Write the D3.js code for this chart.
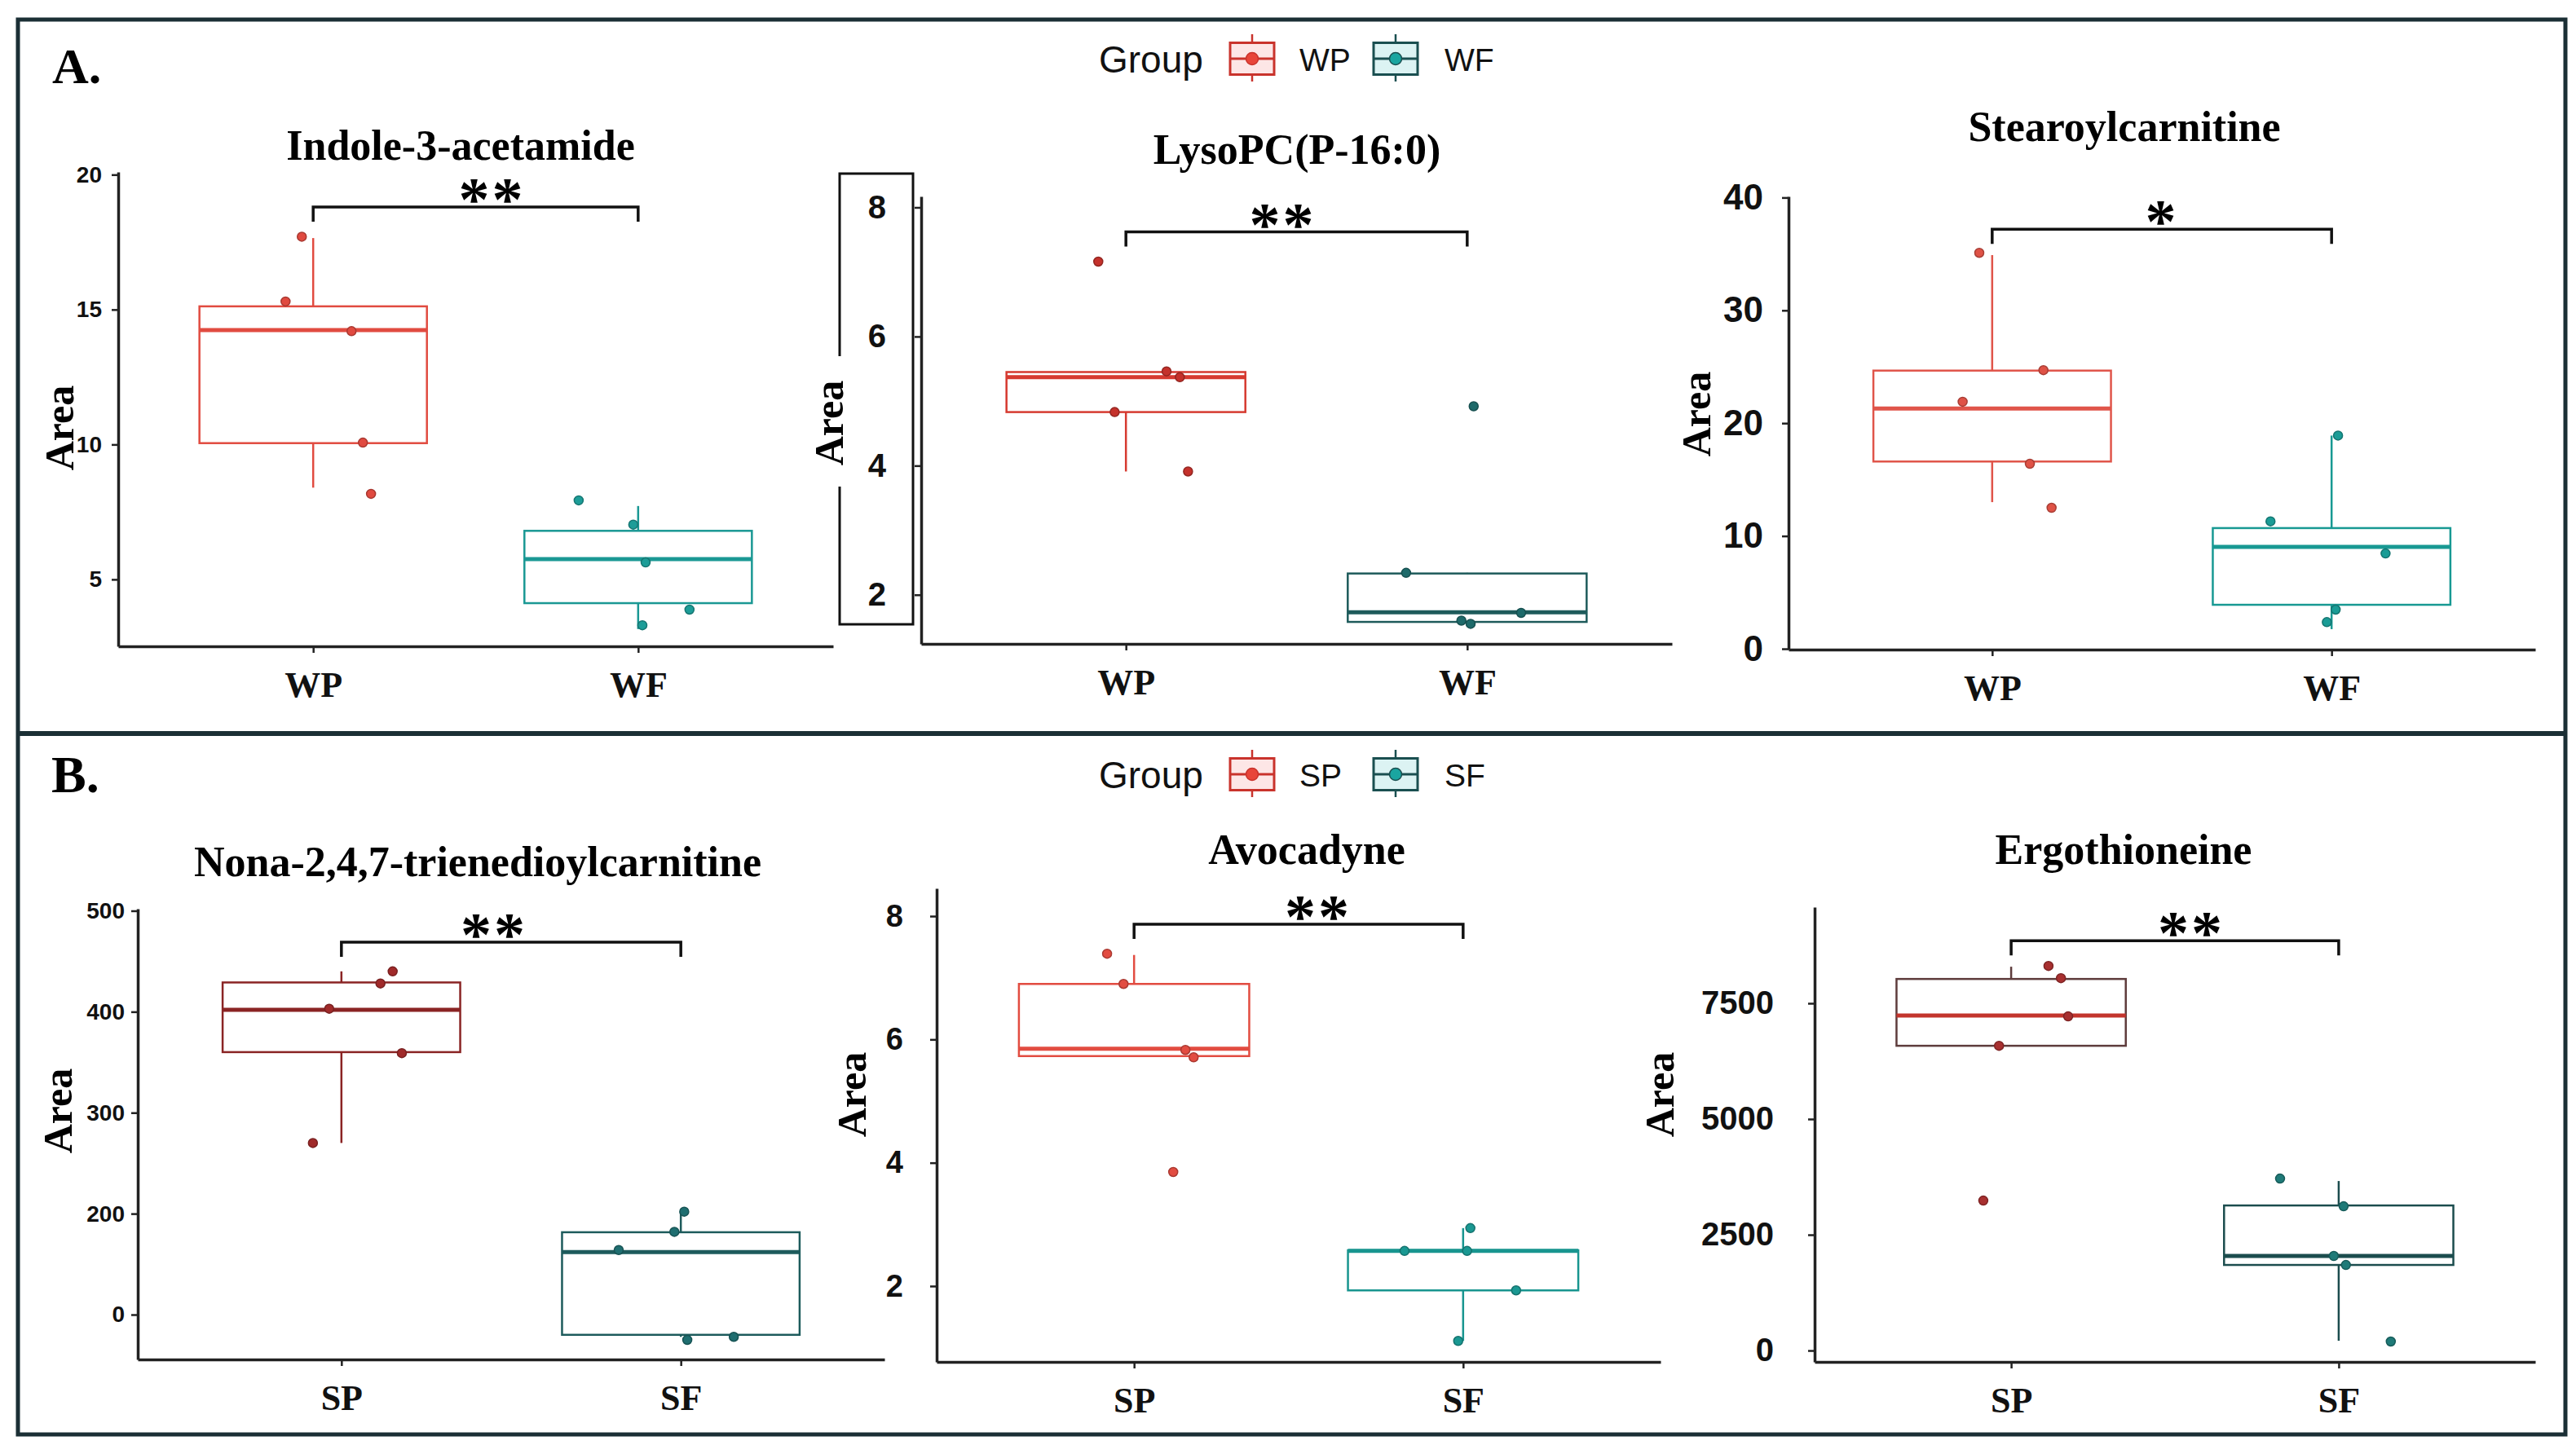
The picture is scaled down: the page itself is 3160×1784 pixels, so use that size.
<!DOCTYPE html>
<html>
<head>
<meta charset="utf-8">
<script src="https://cdn.jsdelivr.net/npm/d3@7"></script>
<style>
  html, body { margin: 0; padding: 0; background: #fff; }
  svg { display: block; }
</style>
</head>
<body>
<div id="chart"></div>
<script>
// ---- data ----
const groupsA = ["WP", "WF"];
const groupsB = ["SP", "SF"];
const titles = ["Indole-3-acetamide", "LysoPC(P-16:0)", "Stearoylcarnitine",
                "Nona-2,4,7-trienedioylcarnitine", "Avocadyne", "Ergothioneine"];
const stars = ["**", "**", "*", "**", "**", "**"];
const sigY = [18.8, 7.62, 37.2, 469, 7.87, 8853];

const yDomains = [[2.52, 20.1], [1.24, 8.17], [-0.07, 40.1], [55.6, 502], [0.77, 8.45], [-246, 9577]];
const yTicks = [[5, 10, 15, 20], [2, 4, 6, 8], [0, 10, 20, 30, 40],
                [100, 200, 300, 400, 500], [2, 4, 6, 8], [0, 2500, 5000, 7500]];
// panel B1 prints "0" where 100 would be
const yTickLabels = [["5", "10", "15", "20"], ["2", "4", "6", "8"], ["0", "10", "20", "30", "40"],
                     ["0", "200", "300", "400", "500"], ["2", "4", "6", "8"], ["0", "2500", "5000", "7500"]];

// box stats: [low whisker, q1, median, q3, high whisker], one per group
const indoleBox = [[8.4, 10.05, 14.24, 15.12, 17.65], [3.16, 4.12, 5.75, 6.8, 7.72]];
const indolePts = [[17.7, 15.3, 14.2, 10.07, 8.17], [7.93, 7.03, 5.63, 3.88, 3.3]];
const indoleJit = [[-0.035, -0.085, 0.118, 0.153, 0.178], [-0.183, -0.015, 0.023, 0.158, 0.013]];

const lysoBox = [[3.91, 4.83, 5.37, 5.45, 5.45], [1.55, 1.58, 1.73, 2.33, 2.34]];
const lysoPts = [[7.16, 5.46, 5.37, 4.83, 3.91], [4.92, 2.34, 1.72, 1.6, 1.55]];
const lysoJit = [[-0.081, 0.119, 0.158, -0.033, 0.182], [0.019, -0.179, 0.158, -0.017, 0.01]];

const stearBox = [[13.0, 16.6, 21.3, 24.66, 34.9], [1.74, 3.9, 9.04, 10.7, 18.9]];
const stearPts = [[35.1, 24.7, 21.9, 16.4, 12.5], [18.9, 11.3, 8.45, 3.47, 2.36]];
const stearJit = [[-0.038, 0.151, -0.087, 0.111, 0.175], [0.019, -0.18, 0.159, 0.012, -0.014]];

const nonaBox = [[270, 360, 402, 429, 440], [78, 80, 162, 181.6, 202]];
const nonaPts = [[440, 428, 403, 359, 270], [202, 182, 164, 75, 78]];
const nonaJit = [[0.151, 0.115, -0.036, 0.178, -0.084], [0.01, -0.019, -0.183, 0.019, 0.156]];

const avoBox = [[5.73, 5.73, 5.85, 6.9, 7.37], [1.11, 1.93, 2.57, 2.58, 2.94]];
const avoPts = [[7.39, 6.9, 5.83, 5.71, 3.85], [2.94, 2.57, 2.57, 1.93, 1.11]];
const avoJit = [[-0.082, -0.032, 0.156, 0.181, 0.119], [0.022, -0.178, 0.012, 0.161, -0.015]];

const ergoBox = [[6582, 6582, 7234, 8025, 8290], [211, 1848, 2042, 3133, 3661]];
const ergoPts = [[8307, 8043, 7216, 6582, 3238], [3714, 3115, 2042, 1848, 194]];
const ergoJit = [[0.114, 0.152, 0.174, -0.037, -0.085], [-0.179, 0.015, -0.015, 0.022, 0.159]];

// ---- colours per panel [group1, group2] ----
const boxColors = [["#e14b40", "#1a9894"], ["#d63a30", "#1e5b5b"], ["#e0554a", "#189993"],
                   ["#8a2424", "#1d5b5c"], ["#e24c41", "#18958f"], ["#5e3c3c", "#1c4d4e"]];
const medColors = [["#e14b40", "#1a9894"], ["#d63a30", "#1e5b5b"], ["#e0554a", "#189993"],
                   ["#8a2424", "#1d5b5c"], ["#e24c41", "#18958f"], ["#c3352d", "#1c4d4e"]];
const ptColors = [["#e04a40", "#1d9d98"], ["#c4312b", "#1e6a6a"], ["#df5246", "#1a9c96"],
                  ["#a02a2a", "#1f6e70"], ["#e24c41", "#1a9892"], ["#a83030", "#1f7a78"]];

// ---- layout (pixels) ----
const layout = [
  { x0: 145,  x1: 1022, yb: 793,  yt: 211,  tx: 565,  ty: 196,  ax: 73,   ay: 525,  fs: 28, pad: 12, sdx: 20 },
  { x0: 1130, x1: 2051, yb: 790,  yt: 241,  tx: 1591, ty: 201,  ax: 1017, ay: 519,  fs: 40, pad: 35, sdx: -17 },
  { x0: 2194, x1: 3110, yb: 797,  yt: 241,  tx: 2606, ty: 173,  ax: 2081, ay: 508,  fs: 44, pad: 23, sdx: 0 },
  { x0: 169,  x1: 1085, yb: 1668, yt: 1115, tx: 586,  ty: 1075, ax: 71,   ay: 1363, fs: 28, pad: 8,  sdx: -21 },
  { x0: 1149, x1: 2037, yb: 1671, yt: 1090, tx: 1603, ty: 1060, ax: 1045, ay: 1343, fs: 38, pad: 33, sdx: 24 },
  { x0: 2226, x1: 3110, yb: 1671, yt: 1113, tx: 2605, ty: 1060, ax: 2036, ay: 1343, fs: 40, pad: 42, sdx: 20 }
];

const W = 3160, H = 1784;
const SERIF = "'Liberation Serif', 'Times New Roman', serif";
const SANS = "'Liberation Sans', Arial, sans-serif";
const AXIS = "#222";

const svg = d3.select("#chart").append("svg").attr("width", W).attr("height", H);
svg.append("rect").attr("width", W).attr("height", H).attr("fill", "#fff");

function drawPanel(i, groups, boxes, pts, jit) {
  const L = layout[i];
  const x = d3.scalePoint().domain(groups).range([L.x0, L.x1]).padding(0.6);
  const y = d3.scaleLinear().domain(yDomains[i]).range([L.yb, L.yt]);
  const step = x.step();
  const bw = step * 0.7;
  const g = svg.append("g");

  // title
  g.append("text").attr("x", L.tx).attr("y", L.ty)
    .attr("text-anchor", "middle").attr("font-family", SERIF)
    .attr("font-weight", "bold").attr("font-size", 52).text(titles[i]);

  // y axis
  const ya = g.append("g").attr("transform", `translate(${L.x0},0)`)
    .call(d3.axisLeft(y).tickValues(yTicks[i])
      .tickFormat((d, k) => yTickLabels[i][k])
      .tickSize(8).tickSizeOuter(0).tickPadding(L.pad));
  ya.select(".domain").attr("stroke", AXIS).attr("stroke-width", 3.5);
  ya.selectAll(".tick line").attr("stroke", AXIS).attr("stroke-width", 2.5);
  ya.selectAll("text").attr("font-family", SANS).attr("font-weight", "bold")
    .attr("font-size", L.fs).attr("fill", "#111");

  // x axis
  const xa = g.append("g").attr("transform", `translate(0,${L.yb})`)
    .call(d3.axisBottom(x).tickSize(8).tickSizeOuter(0));
  xa.select(".domain").attr("stroke", AXIS).attr("stroke-width", 3.5);
  xa.selectAll(".tick line").attr("stroke", AXIS).attr("stroke-width", 2.5);
  xa.selectAll("text").attr("dy", null).attr("y", 62)
    .attr("font-family", SERIF).attr("font-weight", "bold")
    .attr("font-size", 44).attr("fill", "#111");

  // "Area" label
  if (i === 1) {
    g.append("rect").attr("x", 1030).attr("y", 213).attr("width", 90).attr("height", 553)
      .attr("fill", "none").attr("stroke", "#111").attr("stroke-width", 3);
    g.append("rect").attr("x", L.ax - 25).attr("y", L.ay - 82).attr("width", 50).attr("height", 160)
      .attr("fill", "#fff");
  }
  g.append("text")
    .attr("transform", `translate(${L.ax},${L.ay}) rotate(-90)`)
    .attr("text-anchor", "middle").attr("dominant-baseline", "central")
    .attr("font-family", SERIF).attr("font-weight", "bold").attr("font-size", 50)
    .text("Area");

  // boxes
  groups.forEach((grp, k) => {
    const [lo, q1, med, q3, hi] = boxes[k];
    const cx = x(grp);
    const col = boxColors[i][k];
    g.append("line").attr("x1", cx).attr("x2", cx).attr("y1", y(lo)).attr("y2", y(q1))
      .attr("stroke", col).attr("stroke-width", 2.5);
    g.append("line").attr("x1", cx).attr("x2", cx).attr("y1", y(q3)).attr("y2", y(hi))
      .attr("stroke", col).attr("stroke-width", 2.5);
    g.append("rect").attr("x", cx - bw / 2).attr("y", y(q3))
      .attr("width", bw).attr("height", Math.max(0, y(q1) - y(q3)))
      .attr("fill", "none").attr("stroke", col).attr("stroke-width", 2.5);
    g.append("line").attr("x1", cx - bw / 2).attr("x2", cx + bw / 2)
      .attr("y1", y(med)).attr("y2", y(med))
      .attr("stroke", medColors[i][k]).attr("stroke-width", 5);

    g.selectAll(null).data(pts[k]).enter().append("circle")
      .attr("cx", (d, j) => cx + jit[k][j] * step)
      .attr("cy", d => y(d))
      .attr("r", 5.5)
      .attr("fill", ptColors[i][k])
      .attr("stroke", d3.color(ptColors[i][k]).darker(0.8))
      .attr("stroke-width", 1.5);
  });

  // significance bracket
  const sy = y(sigY[i]);
  const xa1 = x(groups[0]), xa2 = x(groups[1]);
  g.append("path")
    .attr("d", `M${xa1},${sy + 18}V${sy}H${xa2}V${sy + 18}`)
    .attr("fill", "none").attr("stroke", "#111").attr("stroke-width", 3.5);
  g.append("text").attr("x", (xa1 + xa2) / 2 + L.sdx).attr("y", sy + 16)
    .attr("text-anchor", "middle").attr("font-family", SERIF).attr("font-weight", "bold")
    .attr("font-size", 76).attr("letter-spacing", 3).text(stars[i]);
}

function drawLegend(groups, colors, fills, dots, cy) {
  const lg = svg.append("g");
  lg.append("text").attr("x", 1348).attr("y", cy + 17)
    .attr("font-family", SANS).attr("font-size", 46).attr("fill", "#111").text("Group");
  const keyX = [1509, 1685], textX = [1594, 1772];
  groups.forEach((grp, k) => {
    const kx = keyX[k], kw = 54, kh = 39;
    lg.append("line").attr("x1", kx + kw / 2).attr("x2", kx + kw / 2)
      .attr("y1", cy - 30).attr("y2", cy + 28)
      .attr("stroke", colors[k]).attr("stroke-width", 2.5);
    lg.append("rect").attr("x", kx).attr("y", cy - kh / 2).attr("width", kw).attr("height", kh)
      .attr("fill", fills[k]).attr("stroke", colors[k]).attr("stroke-width", 3);
    lg.append("line").attr("x1", kx).attr("x2", kx + kw).attr("y1", cy).attr("y2", cy)
      .attr("stroke", colors[k]).attr("stroke-width", 3);
    lg.append("circle").attr("cx", kx + kw / 2).attr("cy", cy).attr("r", 7.5)
      .attr("fill", dots[k]).attr("stroke", colors[k]).attr("stroke-width", 1.5);
    lg.append("text").attr("x", textX[k]).attr("y", cy + 15)
      .attr("font-family", SANS).attr("font-size", 39).attr("fill", "#111").text(grp);
  });
}

// frame and separator
svg.append("rect").attr("x", 22).attr("y", 24).attr("width", 3125).attr("height", 1736)
  .attr("fill", "none").attr("stroke", "#1b2f35").attr("stroke-width", 5);
svg.append("line").attr("x1", 22).attr("x2", 3147).attr("y1", 900).attr("y2", 900)
  .attr("stroke", "#1b2f35").attr("stroke-width", 6);

svg.append("text").attr("x", 64).attr("y", 102).attr("font-family", SERIF)
  .attr("font-weight", "bold").attr("font-size", 62).text("A.");
svg.append("text").attr("x", 63).attr("y", 972).attr("font-family", SERIF)
  .attr("font-weight", "bold").attr("font-size", 64).text("B.");

drawLegend(groupsA, ["#c9332c", "#1a4f50"], ["#fde6e6", "#dcf3f3"], ["#e8453a", "#1aa5a0"], 72);
drawLegend(groupsB, ["#c9332c", "#1a4f50"], ["#fde6e6", "#dcf3f3"], ["#e8453a", "#1aa5a0"], 950);

drawPanel(0, groupsA, indoleBox, indolePts, indoleJit);
drawPanel(1, groupsA, lysoBox, lysoPts, lysoJit);
drawPanel(2, groupsA, stearBox, stearPts, stearJit);
drawPanel(3, groupsB, nonaBox, nonaPts, nonaJit);
drawPanel(4, groupsB, avoBox, avoPts, avoJit);
drawPanel(5, groupsB, ergoBox, ergoPts, ergoJit);
</script>
</body>
</html>
